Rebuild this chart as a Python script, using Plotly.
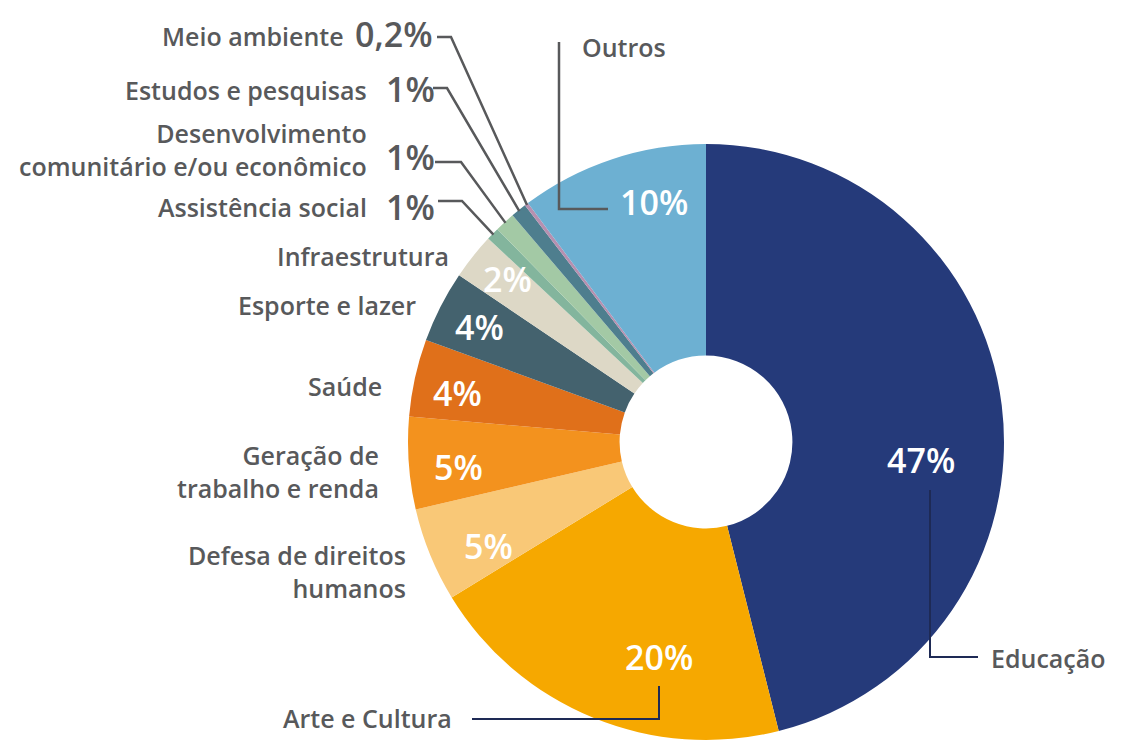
import math
import plotly.graph_objects as go

W, H = 1125, 753

categories = ["Educação", "Arte e Cultura", "Defesa de direitos humanos",
              "Geração de trabalho e renda", "Saúde", "Esporte e lazer",
              "Infraestrutura", "Assistência social",
              "Desenvolvimento comunitário e/ou econômico",
              "Estudos e pesquisas", "Meio ambiente", "Outros"]
values = [46.1, 20.2, 5.1, 5.0, 4.2, 3.9, 2.5, 0.7, 1.1, 0.85, 0.2, 10.2]
pct_labels = ["47%", "20%", "5%", "5%", "4%", "4%", "2%", "1%", "1%", "1%", "0,2%", "10%"]
colors = ["#253A7A", "#F6A800", "#F9C877", "#F3921E", "#E0701A", "#44626E",
          "#DDD8C6", "#83B59D", "#A3C9A5", "#4E7E8E", "#B690B0", "#6DB0D2"]

GRAY = "#58595B"
NAVY = "#1E2A55"
FONT = "Open Sans"

# pie geometry (pixels)
CX, CY, R = 706, 442, 298


def px(x):
    return x / W


def py(y):
    return 1 - y / H


fig = go.Figure(go.Pie(
    labels=categories, values=values, marker=dict(colors=colors, line=dict(width=0)),
    hole=0.29, sort=False, direction="clockwise", rotation=0,
    textinfo="none", hoverinfo="label+percent", showlegend=False,
    domain=dict(x=[px(CX - R), px(CX + R)], y=[py(CY + R), py(CY - R)]),
))

# slice mid angles from data
total = sum(values)
mid_angle = {}
cum = 0
for c, v in zip(categories, values):
    mid_angle[c] = (cum + v / 2) / total * 2 * math.pi
    cum += v


def edge_point(cat, r=R - 1):
    a = mid_angle[cat]
    return CX + r * math.sin(a), CY - r * math.cos(a)


annotations = []


def text(x, y, s, xanchor="right", size=25, color=GRAY, align="right"):
    annotations.append(dict(
        x=px(x), y=py(y), xref="paper", yref="paper", text=s, showarrow=False,
        xanchor=xanchor, yanchor="middle", align=align,
        font=dict(family=FONT, size=size, color=color, weight=600),
    ))


# category labels
text(346, 36, "Meio ambiente")
text(369, 90, "Estudos e pesquisas")
text(369, 149, "Desenvolvimento<br>comunitário e/ou econômico")
text(369, 207, "Assistência social")
text(451, 256, "Infraestrutura")
text(418, 305, "Esporte e lazer")
text(384, 386, "Saúde")
text(381, 471, "Geração de<br>trabalho e renda")
text(408, 571, "Defesa de direitos<br>humanos")
text(454, 718, "Arte e Cultura")
text(989, 658, "Educação", xanchor="left", align="left")
text(580, 47, "Outros", xanchor="left", align="left")

# outside percentages
text(353, 34, pct_labels[10], xanchor="left", size=34)
text(384, 89, pct_labels[9], xanchor="left", size=34)
text(384, 157, pct_labels[8], xanchor="left", size=34)
text(384, 207, pct_labels[7], xanchor="left", size=34)

# inside percentages
inside_pos = {0: (921, 460), 1: (659, 657), 2: (488, 546), 3: (459, 467),
              4: (457, 393), 5: (479, 327), 6: (507, 279), 11: (654, 202)}
for i, (x, y) in inside_pos.items():
    text(x, y, pct_labels[i], xanchor="center", size=34, color="white", align="center")

shapes = []


def poly(points, color=GRAY, width=2.5):
    d = "M " + " L ".join(f"{px(x)},{py(y)}" for x, y in points)
    shapes.append(dict(type="path", path=d, xref="paper", yref="paper",
                       line=dict(color=color, width=width)))


poly([(437, 37), (451, 37), edge_point("Meio ambiente")])
poly([(433, 88), (447, 88), edge_point("Estudos e pesquisas")])
poly([(435, 162), (461, 162), edge_point("Desenvolvimento comunitário e/ou econômico")])
poly([(438, 201), (462, 201), edge_point("Assistência social")])
poly([(608, 209), (559, 209), (559, 42)])
poly([(930, 490), (930, 657), (978, 657)], color=NAVY, width=2)
poly([(659, 686), (659, 719), (472, 719)], color=NAVY, width=2)

fig.update_layout(
    width=W, height=H, margin=dict(l=0, r=0, t=0, b=0),
    paper_bgcolor="white", plot_bgcolor="white",
    annotations=annotations, shapes=shapes,
)

fig.write_html("out.html", config={"displayModeBar": False})

# remove the default page margin so the figure sits at the window origin
with open("out.html", encoding="utf-8") as f:
    html = f.read()
html = html.replace("<head>", "<head><style>html,body{margin:0;padding:0;overflow:hidden;}</style>", 1)
with open("out.html", "w", encoding="utf-8") as f:
    f.write(html)
